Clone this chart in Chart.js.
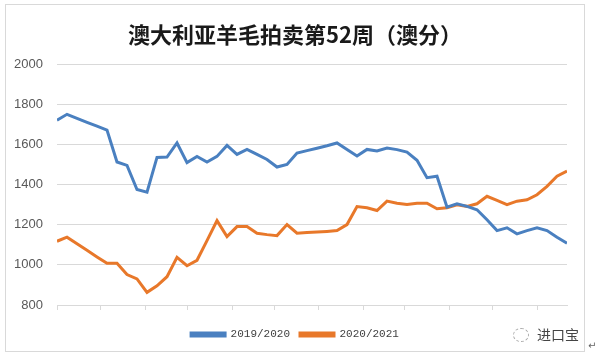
<!DOCTYPE html>
<html>
<head>
<meta charset="utf-8">
<script src="https://cdn.jsdelivr.net/npm/chart.js@4"></script>
<style>
  body { margin: 0; background: #fff; }
  .wrap { position: relative; width: 600px; height: 358px; }
  .frame { position: absolute; left: 5px; top: 4px; width: 580px; height: 348px; border: 1px solid #d9d9d9; box-sizing: border-box; }
  #chart-line { position: absolute; left: 0; top: 0; }
  .mark { position: absolute; left: 513px; top: 324px; font: 14px "Noto Sans CJK SC"; color: #444; }
  .mark .icon { display: inline-block; width: 14px; height: 12px; border: 1px dashed #aaa; border-radius: 50%; margin-right: 8px; vertical-align: -2px; }
  .ret { position: absolute; left: 588px; top: 340px; font: 10px "DejaVu Sans"; color: #666; }
</style>
</head>
<body>
<div class="wrap">
  <div class="frame"></div>
  <canvas id="chart-line" width="600" height="358"></canvas>
  <div class="mark"><span class="icon"></span>进口宝</div>
  <div class="ret">↵</div>
</div>
<script>
var weeks = [1, 2, 3, 4, 5, 6, 7, 8, 9, 10, 11, 12, 13, 14, 15, 16, 17, 18, 19, 20, 21, 22, 23, 24, 25, 26,
             27, 28, 29, 30, 31, 32, 33, 34, 35, 36, 37, 38, 39, 40, 41, 42, 43, 44, 45, 46, 47, 48, 49, 50, 51, 52];

var season1 = [1722, 1751, 1731, 1711, 1692, 1672, 1513, 1496, 1376, 1363, 1536, 1538, 1608,
               1510, 1541, 1513, 1541, 1596, 1551, 1576, 1551, 1526, 1488, 1501, 1558, 1570,
               1582, 1594, 1608, 1575, 1543, 1576, 1568, 1583, 1575, 1563, 1522, 1435, 1442,
               1288, 1305, 1292, 1275, 1225, 1171, 1185, 1155, 1171, 1185, 1171, 1138, 1108];

var season2 = [1118, 1138, 1105, 1073, 1040, 1008, 1008, 952, 930, 863, 896, 941, 1038,
               996, 1023, 1121, 1221, 1141, 1191, 1191, 1158, 1151, 1146, 1201, 1158, 1161,
               1164, 1167, 1171, 1201, 1291, 1285, 1271, 1318, 1308, 1301, 1308, 1308, 1280,
               1285, 1300, 1292, 1305, 1342, 1322, 1301, 1318, 1325, 1350, 1392, 1442, 1468];

var seriesNames = ["2019/2020", "2020/2021"];
var yTicks = [800, 1000, 1200, 1400, 1600, 1800, 2000];
// month boundaries, in weeks
var monthTicks = [1, 5.3, 9.8, 14, 18.5, 22.7, 27.1, 31.6, 35.8, 40.2, 44.5, 49];

function toPoints(values) {
    return values.map(function(v, i) { return { x: weeks[i], y: v }; });
}

var ctx = document.getElementById("chart-line");

var myChart = new Chart(ctx, {
    type: 'line',
    data: {
        datasets: [{
            label: seriesNames[0],
            data: toPoints(season1),
            borderColor: "#4a80c0",
            backgroundColor: "#4a80c0",
            borderWidth: 3,
            pointRadius: 0,
            tension: 0
        }, {
            label: seriesNames[1],
            data: toPoints(season2),
            borderColor: "#e8782a",
            backgroundColor: "#e8782a",
            borderWidth: 3,
            pointRadius: 0,
            tension: 0
        }]
    },
    options: {
        responsive: false,
        animation: false,
        layout: { padding: { left: 5, right: 15, top: 4, bottom: 8 } },
        scales: {
            x: {
                type: 'linear',
                min: weeks[0],
                max: weeks[weeks.length - 1],
                afterBuildTicks: function(scale) {
                    scale.ticks = monthTicks.map(function(v) { return { value: v }; });
                },
                afterFit: function(scale) { scale.height = 14; },
                ticks: { callback: function() { return ''; } },
                grid: { drawOnChartArea: false, tickLength: 5, color: '#d9d9d9' },
                border: { color: '#d9d9d9' }
            },
            y: {
                min: yTicks[0],
                max: yTicks[yTicks.length - 1],
                afterBuildTicks: function(scale) {
                    scale.ticks = yTicks.map(function(v) { return { value: v }; });
                },
                afterFit: function(scale) { scale.width = 52; },
                ticks: {
                    padding: 14,
                    color: '#595959',
                    font: { size: 13, family: "'Liberation Sans', Arial, sans-serif" },
                    callback: function(value) { return String(value); }
                },
                grid: { drawTicks: false, color: '#d9d9d9' },
                border: { display: false }
            },
            y2: {
                position: 'right',
                afterFit: function(scale) { scale.width = 18; },
                ticks: { display: false },
                grid: { display: false },
                border: { display: false }
            }
        },
        plugins: {
            title: {
                display: true,
                text: '澳大利亚羊毛拍卖第52周（澳分）',
                color: '#1a1a1a',
                font: { size: 22, weight: 'bold', family: "'Noto Sans CJK SC', sans-serif" },
                padding: { top: 17, bottom: 17 }
            },
            legend: {
                position: 'bottom',
                labels: {
                    boxWidth: 34,
                    boxHeight: 3,
                    color: '#404040',
                    font: { size: 11, family: "'Liberation Mono', monospace" }
                }
            },
            tooltip: { enabled: false }
        }
    }
});
</script>
</body>
</html>
